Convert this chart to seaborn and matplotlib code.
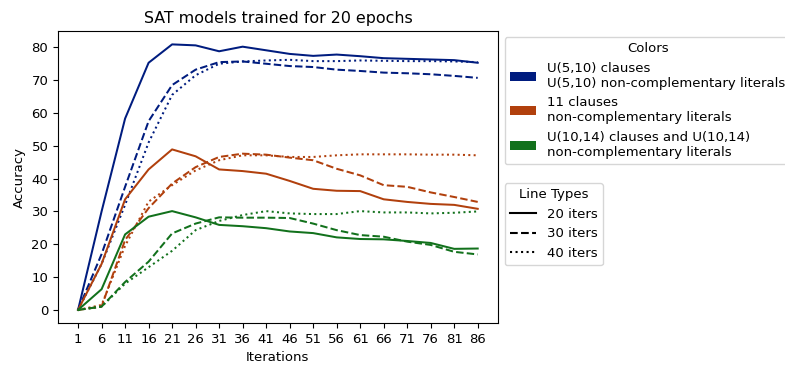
import pandas as pd
import matplotlib.pyplot as plt
import seaborn as sns
from matplotlib.patches import Patch
from matplotlib.lines import Line2D

iterations = [1, 6, 11, 16, 21, 26, 31, 36, 41, 46, 51, 56, 61, 66, 71, 76, 81, 86]

datasets = ['U(5,10) clauses\nU(5,10) non-complementary literals',
            '11 clauses\nnon-complementary literals',
            'U(10,14) clauses and U(10,14)\nnon-complementary literals']
line_types = ['20 iters', '30 iters', '40 iters']

# accuracy per dataset / iteration count
u510_20 = [0, 30, 58.3, 75.3, 80.9, 80.6, 78.8, 80.2, 79.1, 78.0, 77.4, 77.8, 77.3, 76.7, 76.5, 76.3, 76.1, 75.3]
u510_30 = [0, 17, 37.5, 57.5, 68.5, 73.2, 75.5, 75.7, 75.0, 74.3, 74.0, 73.2, 72.8, 72.3, 72.1, 71.8, 71.3, 70.7]
u510_40 = [0, 14, 32, 51, 65.5, 71.5, 75.0, 75.7, 76.0, 76.2, 75.8, 75.8, 76.0, 75.9, 75.8, 75.8, 75.7, 75.5]

c11_20 = [0, 14, 33.7, 42.8, 48.9, 46.8, 42.8, 42.3, 41.5, 39.3, 36.9, 36.3, 36.2, 33.7, 32.9, 32.3, 32.0, 30.8]
c11_30 = [0, 1, 21.3, 31.0, 38.5, 43.5, 46.6, 47.6, 47.3, 46.4, 45.6, 43.0, 41.0, 38.0, 37.5, 35.8, 34.4, 32.9]
c11_40 = [0, 1.5, 19.5, 33.0, 38.0, 42.5, 45.6, 47.1, 47.1, 46.6, 46.6, 47.1, 47.4, 47.4, 47.4, 47.3, 47.3, 47.1]

u1014_20 = [0, 6.3, 23.0, 28.4, 30.1, 28.2, 25.9, 25.5, 24.9, 23.9, 23.4, 22.1, 21.6, 21.5, 21.0, 20.4, 18.6, 18.7]
u1014_30 = [0, 1.0, 8.5, 14.7, 23.3, 26.3, 28.2, 28.1, 28.1, 28.0, 26.3, 24.3, 22.8, 22.3, 20.8, 19.8, 17.7, 16.9]
u1014_40 = [0, 1.0, 8.0, 13.0, 18.0, 24.3, 27.1, 28.9, 30.1, 29.4, 29.2, 29.2, 30.1, 29.7, 29.7, 29.4, 29.6, 30.0]

series = {
    (datasets[0], '20 iters'): u510_20, (datasets[0], '30 iters'): u510_30, (datasets[0], '40 iters'): u510_40,
    (datasets[1], '20 iters'): c11_20, (datasets[1], '30 iters'): c11_30, (datasets[1], '40 iters'): c11_40,
    (datasets[2], '20 iters'): u1014_20, (datasets[2], '30 iters'): u1014_30, (datasets[2], '40 iters'): u1014_40,
}

rows = []
for (ds, lt), vals in series.items():
    for it, v in zip(iterations, vals):
        rows.append({'Iterations': it, 'Accuracy': v, 'dataset': ds, 'iters': lt})
df = pd.DataFrame(rows)

plt.rcParams['font.size'] = 9.5
plt.rcParams['axes.titlesize'] = 11.4

colors = sns.color_palette('dark', 3)
palette = dict(zip(datasets, colors))
dashes = {'20 iters': '', '30 iters': (3.7, 1.6), '40 iters': (1, 1.65)}

fig = plt.figure(figsize=(7.85, 3.66), dpi=100)
ax = fig.add_axes([0.074, 0.117, 0.560, 0.798])

sns.lineplot(data=df, x='Iterations', y='Accuracy', hue='dataset', style='iters',
             palette=palette, dashes=dashes, hue_order=datasets, style_order=line_types,
             linewidth=1.45, legend=False, ax=ax)

ax.set_xticks(iterations)
ax.set_yticks(range(0, 81, 10))
ax.set_title('SAT models trained for 20 epochs')

color_handles = [Patch(facecolor=c, label=d) for d, c in zip(datasets, colors)]
leg1 = ax.legend(handles=color_handles, title='Colors', loc='upper left',
                 bbox_to_anchor=(1.016, 0.98), borderaxespad=0)
ax.add_artist(leg1)

style_handles = [Line2D([0], [0], color='black', linestyle=ls, label=lt)
                 for lt, ls in zip(line_types, ['-', '--', ':'])]
ax.legend(handles=style_handles, title='Line Types', loc='upper left',
          bbox_to_anchor=(1.016, 0.48), borderaxespad=0)

plt.savefig('out.png', dpi=100)
